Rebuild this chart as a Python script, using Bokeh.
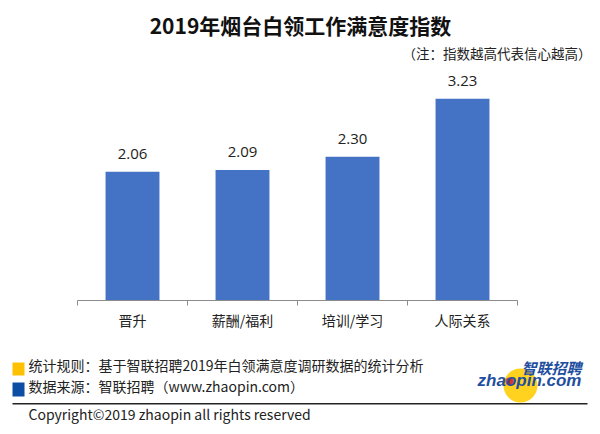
import math
from bokeh.plotting import figure
from bokeh.models import (FactorRange, Range1d, Label, BoxAnnotation, ColumnDataSource)
from bokeh.core.properties import value
from bokeh.embed import file_html
from bokeh.resources import INLINE

# ---- data ----
categories = ["晋升", "薪酬/福利", "培训/学习", "人际关系"]
values = [2.06, 2.09, 2.30, 3.23]
value_labels = [f"{v:.2f}" for v in values]

title_text = "2019年烟台白领工作满意度指数"
note_text = "（注：指数越高代表信心越高）"
rule_text = "统计规则：基于智联招聘2019年白领满意度调研数据的统计分析"
source_text = "数据来源：智联招聘（www.zhaopin.com）"
copyright_text = "Copyright©2019 zhaopin all rights reserved"
logo_cn = "智联招聘"
logo_en = "zhaopin.com"

CJK = "Noto Sans CJK SC"
BAR = "#4472C4"
AXIS = "#8c8c8c"
TXT = "#222222"

src = ColumnDataSource(dict(cat=categories, val=values, lab=value_labels,
                            base=[0] * len(categories)))
edges = [(c, -0.5) for c in categories] + [(categories[-1], 0.5)]

p = figure(width=600, height=434,
           x_range=FactorRange(*categories, range_padding=0.7, range_padding_units="absolute"),
           y_range=Range1d(-2.144, 4.8),
           x_axis_location=None, y_axis_location=None,
           output_backend="svg", toolbar_location=None,
           min_border=0, min_border_right=6)
p.outline_line_color = None
p.grid.visible = False
p.background_fill_color = "white"
p.border_fill_color = "white"

p.vbar(x="cat", top="val", width=0.49, source=src, fill_color=BAR, line_color=None)

# category axis: baseline, boundary ticks, labels
p.segment(x0=[edges[0]], x1=[edges[-1]], y0=[0], y1=[0], line_color=AXIS, line_width=1)
p.ray(x=edges, y=[0] * len(edges), length=5, length_units="screen",
      angle=-math.pi / 2, line_color=AXIS, line_width=1)
p.text(x="cat", y="base", text="cat", source=src, text_align="center",
       text_baseline="middle", y_offset=19, text_font=value(CJK),
       text_font_size="14px", text_color=TXT)

p.text(x="cat", y="val", text="lab", source=src, text_align="center",
       text_baseline="middle", y_offset=-18, text_font=value("Open Sans"),
       text_font_size="15px", text_color=TXT)

# screen positions: x from the left edge, y up from the bottom edge
def lab(text, x, y, size, align="left", style="normal", color=TXT, font=CJK):
    p.add_layout(Label(x=x, y=y, x_units="screen", y_units="screen", text=text,
                       text_font=font, text_font_size=size, text_font_style=style,
                       text_color=color, text_align=align, text_baseline="middle"))

def box(l, r, t, b, color, radius=0):
    p.add_layout(BoxAnnotation(left=l, right=r, top=t, bottom=b,
                               left_units="screen", right_units="screen",
                               top_units="screen", bottom_units="screen",
                               fill_color=color, fill_alpha=1, line_color=None,
                               border_radius=radius))

lab(title_text, 300, 410, "21px", align="center", style="bold", color="#111111")
lab(note_text, 591, 382, "13.5px", align="right")

box(12, 24, 72, 59, "#FFC000")
box(12, 24, 52, 38, "#0E4DA4")
lab(rule_text, 28, 70, "14px")
lab(source_text, 28, 49, "14px")
box(12, 587, 31.5, 30, "#222222")
lab(copyright_text, 28, 21, "14px")

# logo
box(503, 537, 66, 32, "#FFD21F", radius=17)
box(505, 513, 57, 49, "#D9342B", radius=4)
lab(logo_cn, 551, 67, "15px", align="center", style="bold italic", color="#1F4FA0")
lab(logo_en, 529, 54, "17px", align="center", style="bold italic", color="#1F4FA0",
    font="Liberation Sans")

open("out.html", "w").write(file_html(p, INLINE))
